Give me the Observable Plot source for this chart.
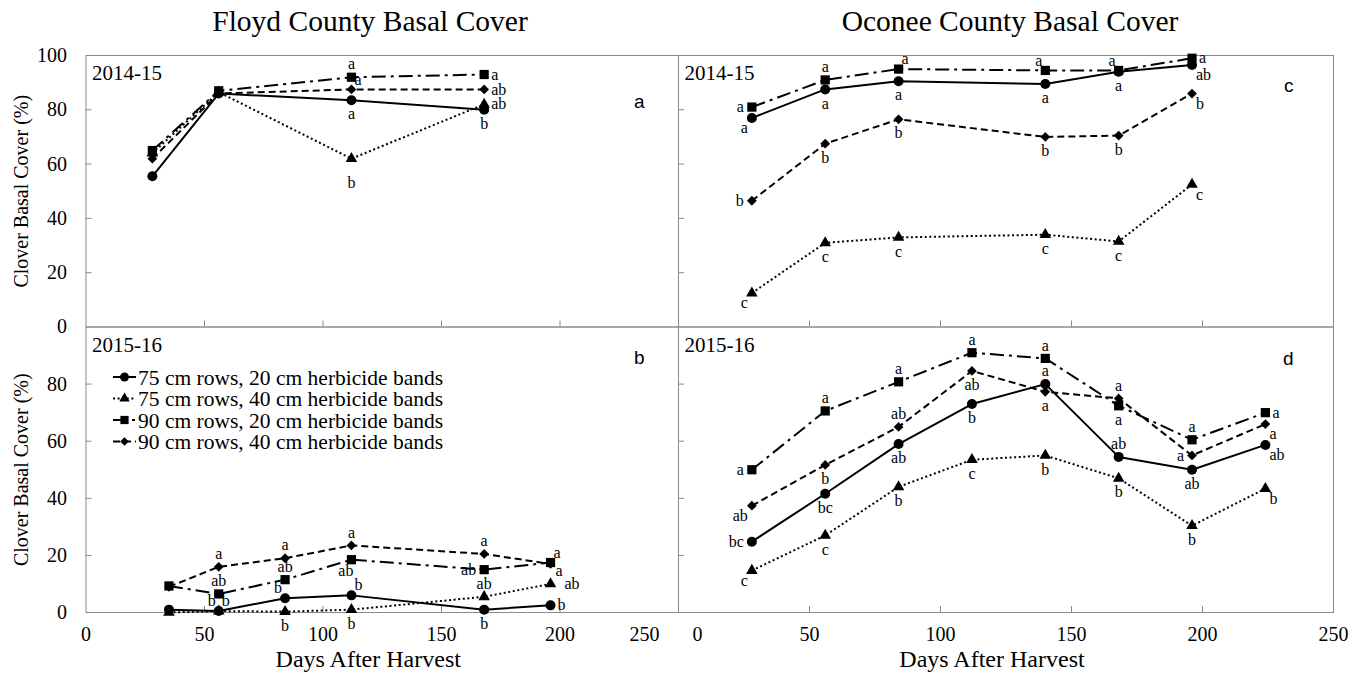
<!DOCTYPE html>
<html>
<head>
<meta charset="utf-8">
<script src="https://cdn.jsdelivr.net/npm/d3@7"></script>
<script src="https://cdn.jsdelivr.net/npm/@observablehq/plot@0.6"></script>
<style>
html,body{margin:0;padding:0;background:#fff;}
#chart{position:relative;width:1363px;height:673px;overflow:hidden;font-family:"Liberation Serif","Times New Roman",serif;color:#000;}
#chart > svg{position:absolute;left:0;top:0;}
.ttl{position:absolute;top:3px;font-size:29.5px;line-height:36px;transform:translateX(-50%);white-space:nowrap;}
</style>
</head>
<body>
<div id="chart">
  <div class="ttl" style="left:370px">Floyd County Basal Cover</div>
  <div class="ttl" style="left:1010px">Oconee County Basal Cover</div>
</div>
<script>
// ---------------- DATA ----------------
const treatments = [
  "75 cm rows, 20 cm herbicide bands",
  "75 cm rows, 40 cm herbicide bands",
  "90 cm rows, 20 cm herbicide bands",
  "90 cm rows, 40 cm herbicide bands"
];
const xTickValues = [0, 50, 100, 150, 200, 250];
const yTickValues = [0, 20, 40, 60, 80, 100];

// Floyd County 2014-15
const floyd1415Days = [28, 56, 112, 168];
const floyd1415_75x20 = [55.5, 86, 83.5, 80];
const floyd1415_75x40 = [64, 86.5, 62, 82];
const floyd1415_90x20 = [65, 87, 92, 93];
const floyd1415_90x40 = [62, 86, 87.5, 87.5];
const floyd1415Sig_75x20 = ["", "", "a", "b"];
const floyd1415Sig_75x40 = ["", "", "b", "ab"];
const floyd1415Sig_90x20 = ["", "", "a", "a"];
const floyd1415Sig_90x40 = ["", "", "a", "ab"];

// Oconee County 2014-15
const oconee1415Days = [28, 56, 84, 140, 168, 196];
const oconee1415_75x20 = [77, 87.5, 90.5, 89.5, 94, 96.5];
const oconee1415_75x40 = [12.5, 31, 33, 34, 31.5, 52.5];
const oconee1415_90x20 = [81, 91, 95, 94.5, 94.5, 99];
const oconee1415_90x40 = [46.5, 67.5, 76.5, 70, 70.5, 86];
const oconee1415Sig_75x20 = ["a", "a", "a", "a", "a", "ab"];
const oconee1415Sig_75x40 = ["c", "c", "c", "c", "c", "c"];
const oconee1415Sig_90x20 = ["a", "a", "a", "a", "a", "a"];
const oconee1415Sig_90x40 = ["b", "b", "b", "b", "b", "b"];

// Floyd County 2015-16
const floyd1516Days = [35, 56, 84, 112, 168, 196];
const floyd1516_75x20 = [1, 0.5, 5, 6, 1, 2.5];
const floyd1516_75x40 = [0, 0.5, 0.3, 1, 5.5, 10];
const floyd1516_90x20 = [9.3, 6.5, 11.5, 18.5, 15, 17.5];
const floyd1516_90x40 = [9, 16, 19, 23.5, 20.5, 17];
const floyd1516Sig_75x20 = ["", "b", "b", "b", "b", "b"];
const floyd1516Sig_75x40 = ["", "b", "b", "b", "ab", "ab"];
const floyd1516Sig_90x20 = ["", "ab", "ab", "ab", "ab", "a"];
const floyd1516Sig_90x40 = ["", "a", "a", "a", "a", "a"];

// Oconee County 2015-16
const oconee1516Days = [28, 56, 84, 112, 140, 168, 196, 224];
const oconee1516_75x20 = [24.8, 41.6, 59, 73, 80, 54.5, 50, 58.7];
const oconee1516_75x40 = [14.7, 27, 44, 53.5, 55, 47, 30.4, 43.4];
const oconee1516_90x20 = [50, 70.6, 80.8, 91, 89, 72.4, 60.5, 70];
const oconee1516_90x40 = [37.4, 51.7, 65, 84.6, 77.3, 75, 55, 66];
const oconee1516Sig_75x20 = ["bc", "bc", "ab", "b", "a", "ab", "ab", "ab"];
const oconee1516Sig_75x40 = ["c", "c", "b", "c", "b", "b", "b", "b"];
const oconee1516Sig_90x20 = ["a", "a", "a", "a", "a", "a", "a", "a"];
const oconee1516Sig_90x40 = ["ab", "b", "ab", "ab", "a", "a", "a", "a"];

// ---------------- LABEL PLACEMENT (styling) ----------------
const floyd1415At = [
  ["", "", "below", "below"],
  ["", "", "below2", "right"],
  ["", "", "above", "right"],
  ["", "", "aboveRight", "right"]
];
const oconee1415At = [
  ["belowLeft", "below", "below", "below", "below", "belowRight"],
  ["belowLeft", "below", "below", "below", "below", "belowRight"],
  ["left", "above", "aboveRight", "aboveLeft", "aboveLeft", "right"],
  ["left", "below", "below", "below", "below", "belowRight"]
];
const floyd1516At = [
  ["", "aboveLeft", "aboveLeft", "aboveRight", "below", "right"],
  ["", "aboveRight", "below", "below", "above", "rightFar"],
  ["", "above", "above", "belowLeftNear", "left", "aboveRight"],
  ["", "above", "above", "above", "above", "belowRightNear"]
];
const oconee1516At = [
  ["left", "below", "below", "below", "above", "above", "below", "belowRight"],
  ["belowLeft", "below", "below", "below", "below", "below", "below", "belowRight"],
  ["left", "above", "above", "above", "above", "below", "above", "right"],
  ["belowLeft", "below", "above", "below", "below", "above", "left", "belowRight"]
];
const placements = {
  above:          {dx: 0,  dy: -13, textAnchor: "middle"},
  below:          {dx: 0,  dy: 14,  textAnchor: "middle"},
  below2:         {dx: 0,  dy: 24,  textAnchor: "middle"},
  left:           {dx: -8, dy: 0,   textAnchor: "end"},
  right:          {dx: 7,  dy: 0,   textAnchor: "start"},
  rightFar:       {dx: 14, dy: 0,   textAnchor: "start"},
  aboveLeft:      {dx: -3, dy: -10, textAnchor: "end"},
  aboveRight:     {dx: 3,  dy: -10, textAnchor: "start"},
  belowLeft:      {dx: -4, dy: 10,  textAnchor: "end"},
  belowLeftNear:  {dx: 2,  dy: 11,  textAnchor: "end"},
  belowRight:     {dx: 4,  dy: 10,  textAnchor: "start"},
  belowRightNear: {dx: 5,  dy: 7,   textAnchor: "start"}
};
const seriesStyles = [
  {dash: null,        symbol: d3.symbolCircle,   r: 5},
  {dash: "2,2.6",     symbol: d3.symbolTriangle, r: 4.3},
  {dash: "14,5,3,5",  symbol: d3.symbolSquare,   r: 5.2},
  {dash: "7,4",       symbol: d3.symbolDiamond2 || d3.symbolDiamond, r: 4.4}
];

// ---------------- LAYOUT ----------------
const W = 1363, H = 673;
const GRID = "#8a8a8a";
const colLeft = [85.5, 678], colRight = [678, 1333];
const rowTop = [55, 326.5], rowBottom = [326.5, 612];

function makePanel(p) {
  const [x0, x1] = p.xr, [y0, y1] = p.yr;
  const pw = x1 - x0, ph = y1 - y0;
  const marks = [
    Plot.frame({stroke: GRID}),
    Plot.ruleX(xTickValues.slice(1, -1), {stroke: GRID, insetTop: ph - 6}),
    Plot.ruleY(yTickValues.slice(1, -1), {stroke: GRID, insetRight: pw - 6})
  ];
  if (p.yLabels) {
    marks.push(Plot.axisY(p.yLabels, {tickSize: 0, tickPadding: 19, fontSize: 20,
      label: "Clover Basal Cover (%)", labelAnchor: "center", labelOffset: 72, labelArrow: "none"}));
  }
  if (p.xLabels) {
    marks.push(Plot.axisX(p.xLabels, {tickSize: 0, tickPadding: 14, fontSize: 20, label: null}));
    marks.push(Plot.axisX(p.xEdgeLabel, {tickSize: 0, tickPadding: 14, fontSize: 20, dx: p.xEdgeDx, label: null}));
    marks.push(Plot.text(["Days After Harvest"], {frameAnchor: "bottom", text: d => d, dx: -14, dy: 54, fontSize: 24}));
  }
  const allRows = [];
  p.series.forEach((vals, i) => {
    const rows = p.days.map((d, j) => ({day: d, value: vals[j], sig: p.sigs[i][j], at: p.at[i][j], t: treatments[i]}));
    allRows.push(...rows);
    const s = seriesStyles[i];
    marks.push(Plot.line(rows, {x: "day", y: "value", stroke: "black", strokeWidth: 2,
      strokeDasharray: s.dash, strokeLinecap: s.dash ? "butt" : "round"}));
  });
  p.series.forEach((vals, i) => {
    const rows = p.days.map((d, j) => ({day: d, value: vals[j]}));
    const s = seriesStyles[i];
    marks.push(Plot.dot(rows, {x: "day", y: "value", symbol: s.symbol, r: s.r, fill: "black", stroke: "none"}));
  });
  for (const [key, pl] of Object.entries(placements)) {
    const rows = allRows.filter(d => d.at === key && d.sig);
    if (rows.length) marks.push(Plot.text(rows, {x: "day", y: "value", text: "sig", dx: pl.dx, dy: pl.dy,
      textAnchor: pl.textAnchor, fontSize: 16}));
  }
  marks.push(Plot.text([p.year], {frameAnchor: "top-left", text: d => d, dx: 6, dy: 10, textAnchor: "start", fontSize: 21}));
  marks.push(Plot.text([p.letter], {frameAnchor: "top-right", text: d => d, dx: p.letterDx, dy: p.letterDy,
    fontFamily: "Liberation Sans", fontSize: 19}));

  return Plot.plot({
    width: W, height: H,
    marginLeft: x0, marginRight: W - x1, marginTop: y0, marginBottom: H - y1,
    x: {domain: [0, 250], axis: null},
    y: {domain: [0, 100], axis: null},
    style: {background: "transparent", fontFamily: "Liberation Serif", fontSize: "20px", color: "black", overflow: "visible"},
    marks
  });
}

const chart = document.getElementById("chart");
const panels = [
  {xr: colLeft, yr: rowTop, days: floyd1415Days,
   series: [floyd1415_75x20, floyd1415_75x40, floyd1415_90x20, floyd1415_90x40],
   sigs: [floyd1415Sig_75x20, floyd1415Sig_75x40, floyd1415Sig_90x20, floyd1415Sig_90x40],
   at: floyd1415At, yLabels: yTickValues, year: "2014-15", letter: "a", letterDx: -34, letterDy: 39},
  {xr: colRight, yr: rowTop, days: oconee1415Days,
   series: [oconee1415_75x20, oconee1415_75x40, oconee1415_90x20, oconee1415_90x40],
   sigs: [oconee1415Sig_75x20, oconee1415Sig_75x40, oconee1415Sig_90x20, oconee1415Sig_90x40],
   at: oconee1415At, year: "2014-15", letter: "c", letterDx: -40, letterDy: 23},
  {xr: colLeft, yr: rowBottom, days: floyd1516Days,
   series: [floyd1516_75x20, floyd1516_75x40, floyd1516_90x20, floyd1516_90x40],
   sigs: [floyd1516Sig_75x20, floyd1516Sig_75x40, floyd1516Sig_90x20, floyd1516Sig_90x40],
   at: floyd1516At, yLabels: yTickValues.slice(0, -1), xLabels: xTickValues.slice(0, -1),
   xEdgeLabel: xTickValues.slice(-1), xEdgeDx: -34, year: "2015-16", letter: "b", letterDx: -34, letterDy: 23},
  {xr: colRight, yr: rowBottom, days: oconee1516Days,
   series: [oconee1516_75x20, oconee1516_75x40, oconee1516_90x20, oconee1516_90x40],
   sigs: [oconee1516Sig_75x20, oconee1516Sig_75x40, oconee1516Sig_90x20, oconee1516Sig_90x40],
   at: oconee1516At, xLabels: xTickValues.slice(1), xEdgeLabel: xTickValues.slice(0, 1), xEdgeDx: 19,
   year: "2015-16", letter: "d", letterDx: -40, letterDy: 24}
];
panels.forEach(p => chart.appendChild(makePanel(p)));

// ---------------- LEGEND (inside Floyd 2015-16 panel) ----------------
const lg = d3.select(chart).append("svg").attr("width", W).attr("height", H)
  .style("font-family", "Liberation Serif").style("overflow", "visible");
treatments.forEach((t, i) => {
  const s = seriesStyles[i];
  const y = 377 + i * 21.5;
  lg.append("line").attr("x1", 113).attr("x2", 136).attr("y1", y).attr("y2", y)
    .attr("stroke", "black").attr("stroke-width", 2).attr("stroke-dasharray", s.dash);
  lg.append("path").attr("d", d3.symbol(s.symbol, Math.PI * s.r * s.r * 0.8)())
    .attr("transform", `translate(124.5,${y})`).attr("fill", "black");
  lg.append("text").attr("x", 138).attr("y", y).attr("dy", "0.35em")
    .style("font-size", "21.5px").text(t);
});
</script>
</body>
</html>
